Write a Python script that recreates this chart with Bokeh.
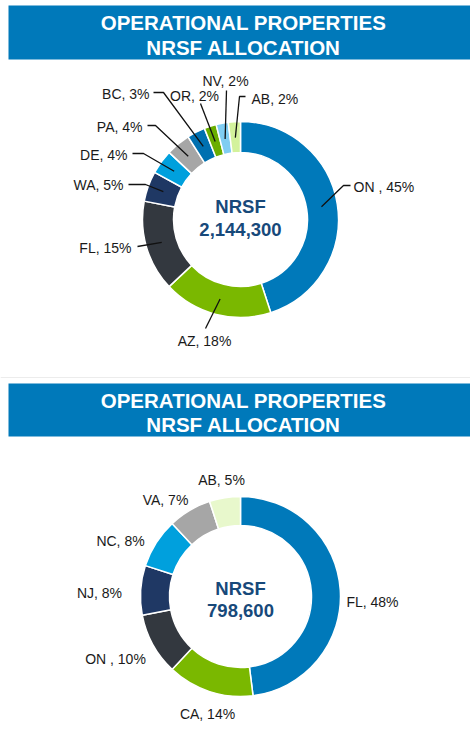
import math
from bokeh.plotting import figure
from bokeh.models import Range1d, ColumnDataSource
from bokeh.core.properties import value
from bokeh.embed import file_html
from bokeh.resources import INLINE

# ---------------- data ----------------
title_lines = ["OPERATIONAL PROPERTIES", "NRSF ALLOCATION"]

top_states = ["ON ", "AZ", "FL", "WA", "DE", "PA", "BC", "OR", "NV", "AB"]
top_pct = [45, 18, 15, 5, 4, 4, 3, 2, 2, 2]
top_total = 2144300

bottom_states = ["FL", "CA", "ON ", "NJ", "NC", "VA", "AB"]
bottom_pct = [48, 14, 10, 8, 8, 7, 5]
bottom_total = 798600

# ---------------- styles ----------------
top_colors = ["#0079ba", "#7ab800", "#33383f", "#1f3864", "#00a0dd",
              "#a6a6a6", "#0070b0", "#6aae00", "#80cdf2", "#d3f29c"]
bottom_colors = ["#0079ba", "#7ab800", "#33383f", "#1f3864", "#00a0dd",
                 "#a6a6a6", "#e8f8cc"]
HEADER = "#0079ba"
CENTER_TXT = "#17497a"
FONT = value("Liberation Sans")

W, H = 470, 733
REF_H = 733


def Y(py):  # reference pixel y -> data y
    return REF_H - py


p = figure(width=W, height=H, output_backend="svg", toolbar_location=None,
           x_range=Range1d(0, W), y_range=Range1d(REF_H - H, REF_H),
           min_border=0, background_fill_color="white", border_fill_color="white")
p.axis.visible = False
p.grid.visible = False
p.outline_line_color = None


def header(top_py, bot_py, line_pys):
    p.quad(left=[8], right=[480], top=[Y(top_py)], bottom=[Y(bot_py)],
           fill_color=HEADER, line_color=None)
    p.text(x=[243, 243], y=[Y(line_pys[0]), Y(line_pys[1])], text=title_lines,
           text_font=FONT, text_font_style="bold", text_font_size=value("20.5px"),
           text_color="white", text_align="center", text_baseline="middle")


def donut(cx, cy_py, r_out, r_in, pcts, colors):
    cy = Y(cy_py)
    total = sum(pcts)
    starts, ends, mids = [], [], []
    cum = 0
    for v in pcts:
        a0 = math.pi / 2 - 2 * math.pi * cum / total
        cum += v
        a1 = math.pi / 2 - 2 * math.pi * cum / total
        starts.append(a0)
        ends.append(a1)
        mids.append((a0 + a1) / 2)
    src = ColumnDataSource(dict(x=[cx] * len(pcts), y=[cy] * len(pcts),
                                s=starts, e=ends, c=colors))
    p.annular_wedge(x="x", y="y", inner_radius=r_in, outer_radius=r_out,
                    start_angle="s", end_angle="e", direction="clock",
                    fill_color="c", line_color="white", line_width=1.5, source=src)
    return cx, cy, mids


def center_text(cx, py1, py2, t1, t2):
    p.text(x=[cx, cx], y=[Y(py1), Y(py2)], text=[t1, t2], text_font=FONT,
           text_font_style="bold", text_font_size=value("18.5px"),
           text_color=CENTER_TXT, text_align="center", text_baseline="middle")


# ---------------- top panel ----------------
header(5, 59, (22, 47))
cx, cy, mids = donut(240, 219, 98, 67, top_pct, top_colors)
center_text(240, 206, 229, "NRSF", f"{top_total:,}")

# leader layout: (path points after the slice anchor, label x, label y, align)
top_layout = [
    ([(343, 185), (350, 185)], 353, 186, "left"),
    ([(205, 328)], 204, 340, "center"),
    ([(137, 246)], 131, 247, "right"),
    ([(145, 184), (128, 184)], 123, 184, "right"),
    ([(143, 153), (132, 153)], 127, 154, "right"),
    ([(155, 125), (147, 125)], 142, 126, "right"),
    ([(163, 92), (153, 92)], 149, 93, "right"),
    ([(200, 103)], 194, 95, "center"),
    ([(226, 90)], 225, 80, "center"),
    ([(239, 96), (245, 96)], 251, 98, "left"),
]
r_anchor = 82
xs_l, ys_l = [], []
for i, (pts, lx, ly, al) in enumerate(top_layout):
    ax = cx + r_anchor * math.cos(mids[i])
    ay = cy + r_anchor * math.sin(mids[i])
    xs_l.append([ax] + [q[0] for q in pts])
    ys_l.append([ay] + [Y(q[1]) for q in pts])
    p.text(x=[lx], y=[Y(ly)], text=[f"{top_states[i]}, {top_pct[i]}%"],
           text_font=FONT, text_font_size=value("14px"), text_color="#1a1a1a",
           text_align=al, text_baseline="middle")
p.multi_line(xs=xs_l, ys=ys_l, line_color="#111111", line_width=1.3)

# faint divider between panels
p.line(x=[0, 480], y=[Y(377), Y(377)], line_color="#ececec", line_width=1)

# ---------------- bottom panel ----------------
header(383, 436, (400, 424))
cx2, cy2, mids2 = donut(240, 596, 100, 71, bottom_pct, bottom_colors)
center_text(240, 588, 610, "NRSF", f"{bottom_total:,}")

bottom_layout = [(372, 601), (207, 713), (115, 658), (99, 592),
                 (120, 540), (165, 499), (221, 479)]
p.text(x=[q[0] for q in bottom_layout], y=[Y(q[1]) for q in bottom_layout],
       text=[f"{s}, {v}%" for s, v in zip(bottom_states, bottom_pct)],
       text_font=FONT, text_font_size=value("14px"), text_color="#1a1a1a",
       text_align="center", text_baseline="middle")

open("out.html", "w").write(file_html(p, INLINE))
